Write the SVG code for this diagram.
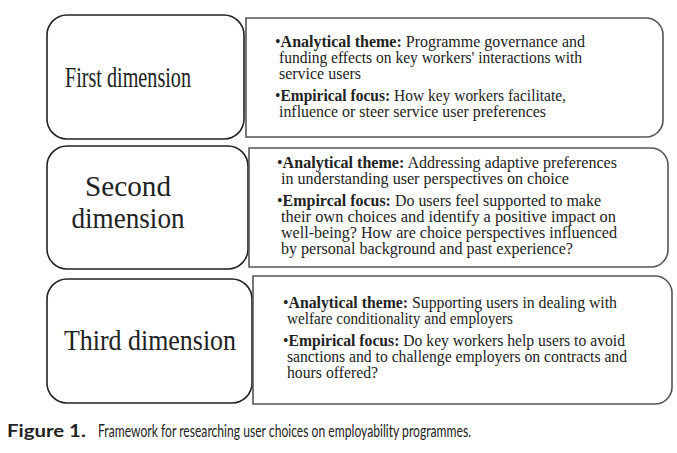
<svg xmlns="http://www.w3.org/2000/svg" width="677" height="453" viewBox="0 0 677 453">
<style>
.l{fill:#fff;stroke:#222;stroke-width:1.6}
.r{fill:#fff;stroke:#555;stroke-width:1.6}
.t{font-family:"Liberation Serif",serif;font-size:30px;fill:#222;text-anchor:middle}
.b{font-family:"Liberation Serif",serif;font-size:16px;fill:#222}
.b tspan.k{font-weight:bold}
.c{font-family:Lato,"Liberation Sans",sans-serif;font-size:17px;fill:#222}
</style>
<rect width="677" height="453" fill="#fff"/>
<g id="connectors"></g>
<g id="dim1">
<rect class="l" x="47" y="15" width="197" height="124" rx="20"/>
<text class="t" x="128" y="87" textLength="126" lengthAdjust="spacingAndGlyphs">First dimension</text>
</g>
<g id="desc1">
<path class="r" d="M246 18H646a17 17 0 0 1 17 17V120a17 17 0 0 1-17 17H246Z"/>
<text class="b" x="275" y="47" textLength="310" lengthAdjust="spacingAndGlyphs">•<tspan class="k">Analytical theme:</tspan> Programme governance and</text>
<text class="b" x="279" y="63" textLength="303" lengthAdjust="spacingAndGlyphs">funding effects on key workers' interactions with</text>
<text class="b" x="279" y="79" textLength="82" lengthAdjust="spacingAndGlyphs">service users</text>
<text class="b" x="275" y="101" textLength="291" lengthAdjust="spacingAndGlyphs">•<tspan class="k">Empirical focus:</tspan> How key workers facilitate,</text>
<text class="b" x="279" y="117" textLength="267" lengthAdjust="spacingAndGlyphs">influence or steer service user preferences</text>
</g>
<g id="dim2">
<rect class="l" x="47" y="146" width="201" height="123" rx="20"/>
<text class="t" x="128" y="196" textLength="86" lengthAdjust="spacingAndGlyphs">Second</text>
<text class="t" x="128" y="228" textLength="113" lengthAdjust="spacingAndGlyphs">dimension</text>
</g>
<g id="desc2">
<path class="r" d="M249 148H651a17 17 0 0 1 17 17V250a17 17 0 0 1-17 17H249Z"/>
<text class="b" x="277" y="168" textLength="340" lengthAdjust="spacingAndGlyphs">•<tspan class="k">Analytical theme:</tspan> Addressing adaptive preferences</text>
<text class="b" x="281" y="184" textLength="288" lengthAdjust="spacingAndGlyphs">in understanding user perspectives on choice</text>
<text class="b" x="277" y="206" textLength="324" lengthAdjust="spacingAndGlyphs">•<tspan class="k">Empircal focus:</tspan> Do users feel supported to make</text>
<text class="b" x="281" y="222" textLength="335" lengthAdjust="spacingAndGlyphs">their own choices and identify a positive impact on</text>
<text class="b" x="281" y="238" textLength="336" lengthAdjust="spacingAndGlyphs">well-being? How are choice perspectives influenced</text>
<text class="b" x="281" y="254" textLength="292" lengthAdjust="spacingAndGlyphs">by personal background and past experience?</text>
</g>
<g id="dim3">
<rect class="l" x="47" y="279" width="205" height="124" rx="20"/>
<text class="t" x="150" y="350" textLength="172" lengthAdjust="spacingAndGlyphs">Third dimension</text>
</g>
<g id="desc3">
<path class="r" d="M253 276H655a17 17 0 0 1 17 17V387a17 17 0 0 1-17 17H253Z"/>
<text class="b" x="283" y="308" textLength="334" lengthAdjust="spacingAndGlyphs">•<tspan class="k">Analytical theme:</tspan> Supporting users in dealing with</text>
<text class="b" x="287" y="324" textLength="226" lengthAdjust="spacingAndGlyphs">welfare conditionality and employers</text>
<text class="b" x="283" y="346" textLength="342" lengthAdjust="spacingAndGlyphs">•<tspan class="k">Empirical focus:</tspan> Do key workers help users to avoid</text>
<text class="b" x="287" y="362" textLength="340" lengthAdjust="spacingAndGlyphs">sanctions and to challenge employers on contracts and</text>
<text class="b" x="287" y="378" textLength="91" lengthAdjust="spacingAndGlyphs">hours offered?</text>
</g>
<g id="caption">
<text class="c" font-size="18" font-weight="bold" transform="translate(7 437) scale(1.2 1)">Figure 1.</text>
<text class="c" x="98" y="437" textLength="373" lengthAdjust="spacingAndGlyphs">Framework for researching user choices on employability programmes.</text>
</g>
</svg>
